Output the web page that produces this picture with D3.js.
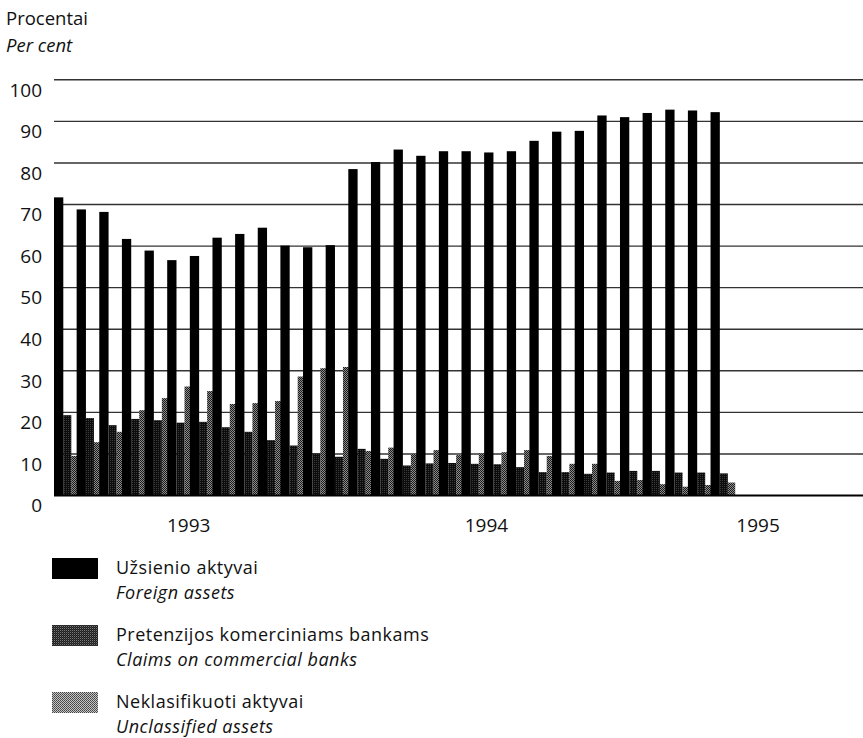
<!DOCTYPE html>
<html>
<head>
<meta charset="utf-8">
<script src="https://cdn.jsdelivr.net/npm/d3@7"></script>
<style>
  html, body { margin: 0; padding: 0; background: #fff; }
  svg { display: block; }
  text { font-family: "Open Sans", "DejaVu Sans", sans-serif; fill: #111; }
</style>
</head>
<body>
<svg id="chart" width="863" height="738"></svg>
<script>
// ---------------- DATA ----------------
const years = ["1993", "1994", "1995"];
const monthsWithData = [
  "1993-01","1993-02","1993-03","1993-04","1993-05","1993-06",
  "1993-07","1993-08","1993-09","1993-10","1993-11","1993-12",
  "1994-01","1994-02","1994-03","1994-04","1994-05","1994-06",
  "1994-07","1994-08","1994-09","1994-10","1994-11","1994-12",
  "1995-01","1995-02","1995-03","1995-04","1995-05","1995-06"
];
// Užsienio aktyvai / Foreign assets (%)
const foreignAssets = [
  71.6, 68.7, 68.1, 61.6, 58.8, 56.5, 57.5, 61.9, 62.8, 64.3, 60.0, 59.6,
  60.1, 78.4, 80.1, 83.1, 81.6, 82.7, 82.7, 82.4, 82.7, 85.2, 87.4, 87.6,
  91.3, 90.9, 91.9, 92.7, 92.5, 92.1
];
// Pretenzijos komerciniams bankams / Claims on commercial banks (%)
const claimsOnBanks = [
  19.2, 18.5, 16.8, 18.3, 18.0, 17.4, 17.6, 16.3, 15.2, 13.2, 11.9, 10.0,
  9.2, 11.1, 8.7, 7.1, 7.6, 7.7, 7.5, 7.4, 6.7, 5.5, 5.5, 5.1,
  5.4, 5.8, 5.8, 5.4, 5.4, 5.2
];
// Neklasifikuoti aktyvai / Unclassified assets (%)
const unclassifiedAssets = [
  9.4, 12.7, 15.2, 20.4, 23.3, 26.1, 25.0, 21.9, 22.1, 22.6, 28.5, 30.5,
  30.8, 10.6, 11.4, 9.9, 10.8, 9.6, 10.0, 10.3, 10.8, 9.4, 7.5, 7.5,
  3.4, 3.6, 2.6, 2.0, 2.4, 3.0
];
const yTicks = [0, 10, 20, 30, 40, 50, 60, 70, 80, 90, 100];
const legendItems = [
  { lt: "Užsienio aktyvai", en: "Foreign assets", key: "foreign" },
  { lt: "Pretenzijos komerciniams bankams", en: "Claims on commercial banks", key: "claims" },
  { lt: "Neklasifikuoti aktyvai", en: "Unclassified assets", key: "unclass" }
];

// ---------------- LAYOUT ----------------
const svg = d3.select("#chart");
const W = 863;
const plotLeft = 54, plotRight = 869, yTop = 79.3, yBottom = 495;

// full axis spans 36 months 1993–1995
const allMonths = [];
years.forEach(y => d3.range(1, 13).forEach(m => allMonths.push(y + "-" + String(m).padStart(2, "0"))));

const x = d3.scaleBand().domain(allMonths).range([plotLeft, plotRight]).paddingInner(0).paddingOuter(0);
const y = d3.scaleLinear().domain([0, 100]).range([yBottom, yTop]);
const slot = x.bandwidth();

// checker patterns
const defs = svg.append("defs");
function checker(id, bg, fg1, fg2) {
  const p = defs.append("pattern").attr("id", id).attr("patternUnits", "userSpaceOnUse")
    .attr("width", 2).attr("height", 2);
  p.append("rect").attr("width", 2).attr("height", 2).attr("fill", bg);
  p.append("rect").attr("x", 0).attr("y", 0).attr("width", 1).attr("height", 1).attr("fill", fg1);
  p.append("rect").attr("x", 1).attr("y", 1).attr("width", 1).attr("height", 1).attr("fill", fg2);
}
checker("pClaims", "#0c0c0c", "#3a3a3a", "#0c0c0c");
checker("pUnclass", "#8c8c8c", "#1a1a1a", "#1a1a1a");
checker("pClaimsLegend", "#1e1e1e", "#7a7a7a", "#3a3a3a");
checker("pUnclassLegend", "#c4c4c4", "#444", "#555");

const fills = { foreign: "#000", claims: "url(#pClaimsLegend)", unclass: "url(#pUnclassLegend)" };
const FS = 19;

// titles
svg.append("text").attr("x", 6).attr("y", 25).attr("font-size", 18.5).text("Procentai");
svg.append("text").attr("x", 6).attr("y", 52).attr("font-size", 18.5).attr("font-style", "italic").text("Per cent");

// gridlines + y labels
const yAxis = d3.axisLeft(y).tickValues(yTicks).tickSize(-(W - plotLeft)).tickFormat(d3.format("d"));
const gAxis = svg.append("g").attr("transform", `translate(${plotLeft},0)`).call(yAxis);
gAxis.select(".domain").remove();
gAxis.selectAll(".tick line").attr("stroke", "#333").attr("stroke-width", 1.4)
  .attr("stroke-opacity", d => d === 0 ? 0 : 1);
gAxis.selectAll(".tick text")
  .attr("x", 42 - plotLeft).attr("dy", "0.88em")
  .attr("text-anchor", "end").attr("font-size", FS).attr("fill", "#111")
  .style("font-family", '"Open Sans", sans-serif');

// bars (drawn back-to-front so the next month's black bar overlaps the grey one)
const wF = 9.3, wC = 8.0, wU = 7.4;
const gBars = svg.append("g");
gBars.selectAll("rect.unclass").data(monthsWithData).join("rect").attr("class", "unclass")
  .attr("x", d => x(d) + wF + wC).attr("width", wU)
  .attr("y", (d, i) => y(unclassifiedAssets[i])).attr("height", (d, i) => y(0) - y(unclassifiedAssets[i]))
  .attr("fill", "url(#pUnclass)");
gBars.selectAll("rect.claims").data(monthsWithData).join("rect").attr("class", "claims")
  .attr("x", d => x(d) + wF).attr("width", wC)
  .attr("y", (d, i) => y(claimsOnBanks[i])).attr("height", (d, i) => y(0) - y(claimsOnBanks[i]))
  .attr("fill", "url(#pClaims)");
gBars.selectAll("rect.foreign").data(monthsWithData).join("rect").attr("class", "foreign")
  .attr("x", d => x(d)).attr("width", wF)
  .attr("y", (d, i) => y(foreignAssets[i])).attr("height", (d, i) => y(0) - y(foreignAssets[i]))
  .attr("fill", "#000");

// baseline
svg.append("line").attr("x1", plotLeft).attr("x2", W).attr("y1", y(0) + 0.5).attr("y2", y(0) + 0.5)
  .attr("stroke", "#000").attr("stroke-width", 2);

// year labels (placement in month slots as in the original layout)
const yearLabelSlot = { "1993": 5.95, "1994": 19.1, "1995": 31.1 };
svg.append("g").selectAll("text").data(years).join("text")
  .attr("x", d => plotLeft + yearLabelSlot[d] * slot)
  .attr("y", 532).attr("text-anchor", "middle").attr("font-size", FS)
  .text(d => d);

// legend
const legendTop = [558, 625, 692];
const LFS = 18;
const lg = svg.append("g");
legendItems.forEach((it, i) => {
  const t = legendTop[i];
  lg.append("rect").attr("x", 52).attr("y", t).attr("width", 46).attr("height", 21)
    .attr("fill", fills[it.key]);
  lg.append("text").attr("x", 116).attr("y", t + 16).attr("font-size", LFS)
    .attr("letter-spacing", 0.5).text(it.lt);
  lg.append("text").attr("x", 116).attr("y", t + 41).attr("font-size", LFS)
    .attr("letter-spacing", 0.5).attr("font-style", "italic").text(it.en);
});
</script>
</body>
</html>
